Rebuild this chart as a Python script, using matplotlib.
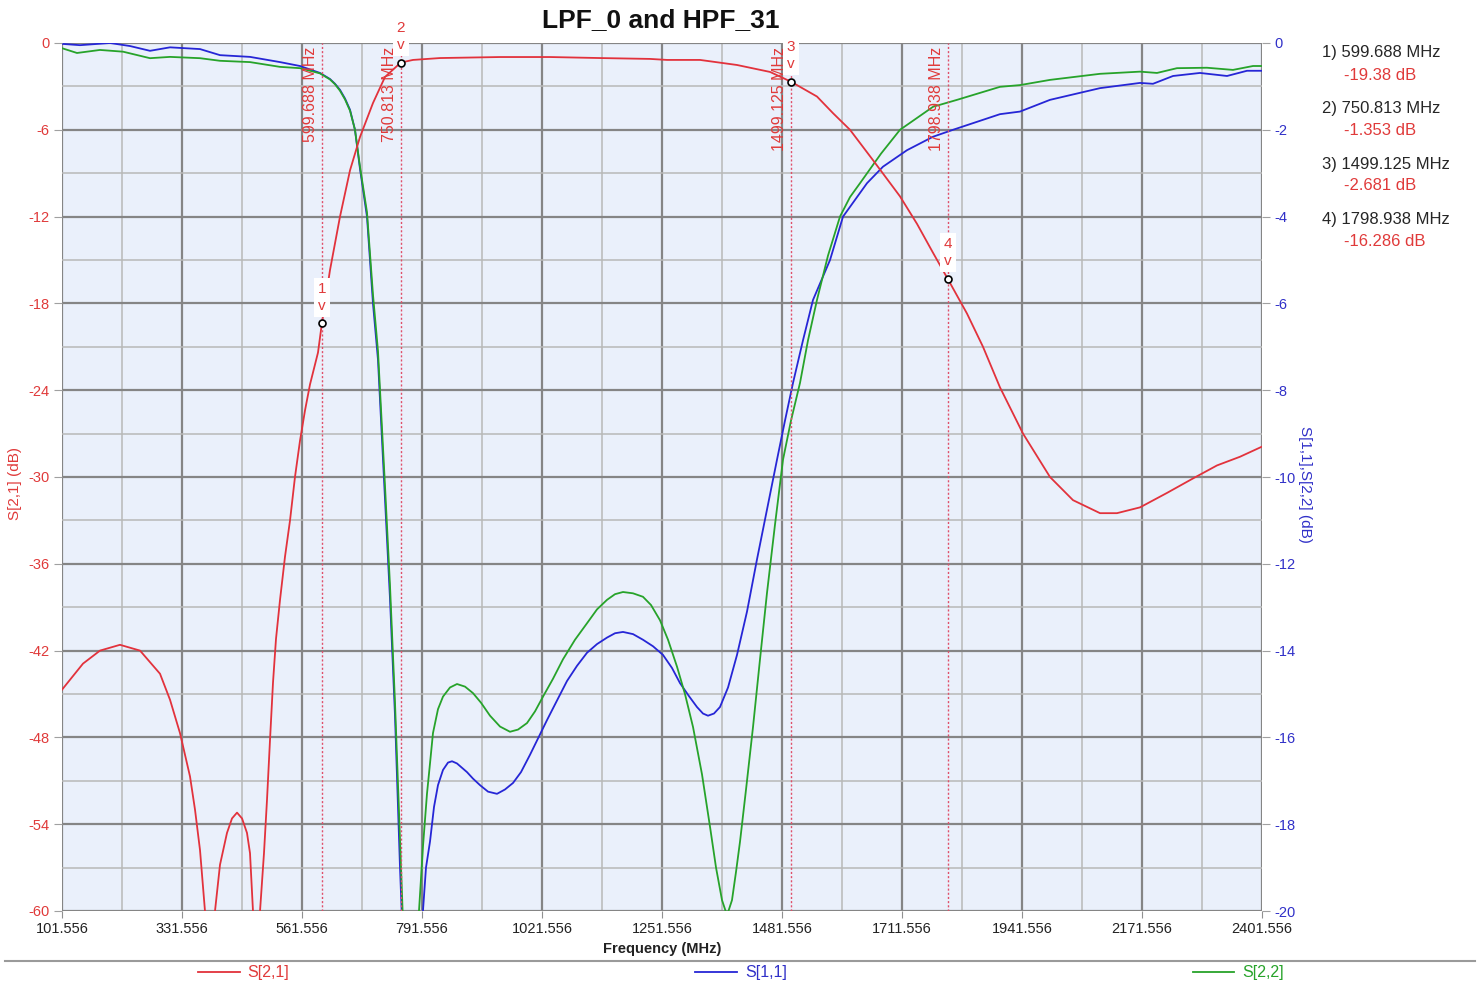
import numpy as np
import matplotlib
matplotlib.use("Agg")
import matplotlib.pyplot as plt
from matplotlib.lines import Line2D
from matplotlib.ticker import MultipleLocator, FixedLocator

plt.rcParams['font.family'] = ['Liberation Sans', 'DejaVu Sans']
plt.rcParams['axes.unicode_minus'] = False

# %% DATA
# S[2,1] on the left axis (dB)
s21_f = [101.6, 141.8, 174.4, 212.7, 251.1, 289.4, 308.6, 327.7, 346.9, 356.5, 366.1,
         375.6, 385.0, 394.8, 404.4, 417.8, 427.4, 437.0, 446.6, 456.1, 461.9, 467.6,
         473.4, 481.1, 488.7, 494.5, 500.2, 506.0, 511.7, 519.4, 529.0, 538.6, 548.1,
         557.7, 567.3, 576.9, 592.2, 599.688, 615.2, 634.4, 653.6, 672.7, 697.6, 720.6,
         750.813, 774.3, 826.1, 941.1, 1036.9, 1132.7, 1228.5, 1261.2, 1324.4, 1395.3,
         1458.6, 1499.125, 1548.6, 1579.3, 1611.9, 1656.0, 1707.7, 1740.3, 1771.0,
         1798.938, 1836.1, 1866.8, 1899.3, 1943.5, 1995.2, 2039.3, 2091.1, 2123.6,
         2167.7, 2219.5, 2269.3, 2315.3, 2359.4, 2401.6]
s21_db = [-44.7, -42.9, -42.0, -41.6, -42.0, -43.6, -45.4, -47.7, -50.7, -53.0, -55.8,
          -60.0, -68.0, -60.0, -56.8, -54.6, -53.6, -53.2, -53.6, -54.6, -56.0, -60.0,
          -70.0, -60.0, -56.0, -52.3, -48.2, -44.2, -41.2, -38.5, -35.5, -33.0, -30.0,
          -27.5, -25.4, -23.6, -21.4, -19.38, -15.7, -12.0, -8.8, -6.5, -4.15, -2.35,
          -1.353, -1.17, -1.04, -0.97, -0.97, -1.04, -1.10, -1.17, -1.17, -1.52,
          -2.0, -2.681, -3.7, -4.85, -6.0, -8.1, -10.6, -12.5, -14.5,
          -16.286, -18.7, -21.0, -23.8, -27.0, -30.0, -31.6, -32.5, -32.5,
          -32.1, -31.1, -30.1, -29.2, -28.6, -27.9]

# S[1,1] on the right axis (dB)
s11_f = [101.6, 136.1, 193.6, 231.9, 270.2, 308.6, 366.1, 404.4, 461.9, 519.4, 557.7,
         596.0, 615.2, 624.8, 634.4, 644.0, 653.6, 663.1, 672.7, 686.1, 697.6, 707.2,
         720.6, 730.2, 739.8, 749.4, 759.0, 768.6, 783.9, 793.5, 799.2, 806.9, 814.6,
         822.2, 831.8, 841.4, 849.1, 858.6, 868.2, 877.8, 889.3, 902.7, 918.1, 935.3,
         950.6, 966.0, 981.3, 998.6, 1031.2, 1050.3, 1069.5, 1088.7, 1107.8, 1127.0,
         1146.2, 1161.5, 1176.8, 1196.0, 1215.1, 1234.3, 1253.5, 1270.7, 1286.1, 1303.3,
         1318.6, 1330.1, 1339.7, 1351.2, 1362.7, 1378.1, 1395.3, 1414.5, 1433.6, 1452.8,
         1472.0, 1487.3, 1502.7, 1521.8, 1541.0, 1573.6, 1598.5, 1644.5, 1675.1, 1721.1,
         1771.0, 1809.3, 1866.8, 1899.3, 1937.7, 1995.2, 2091.1, 2167.7, 2192.6, 2231.0,
         2282.7, 2334.5, 2372.8, 2401.6]
s11_db = [-0.02, -0.05, 0.0, -0.07, -0.18, -0.10, -0.14, -0.28, -0.32, -0.44, -0.53,
          -0.69, -0.83, -0.94, -1.08, -1.28, -1.54, -2.0, -2.9, -4.0, -6.0, -7.3,
          -10.5, -12.8, -15.5, -19.0, -22.0, -26.0, -22.0, -19.98, -19.0, -18.4, -17.6,
          -17.1, -16.75, -16.58, -16.55, -16.6, -16.7, -16.8, -16.95, -17.1, -17.25, -17.3,
          -17.2, -17.05, -16.8, -16.4, -15.6, -15.15, -14.7, -14.35, -14.05, -13.85,
          -13.7, -13.6, -13.57, -13.62, -13.75, -13.9, -14.1, -14.4, -14.75, -15.05,
          -15.3, -15.45, -15.5, -15.45, -15.3, -14.85, -14.1, -13.1, -11.9, -10.75,
          -9.6, -8.7, -7.83, -6.85, -5.92, -5.0, -4.0, -3.23, -2.85, -2.47,
          -2.16, -2.0, -1.77, -1.64, -1.58, -1.31, -1.04, -0.92, -0.94, -0.76,
          -0.69, -0.76, -0.64, -0.64]

# S[2,2] on the right axis (dB)
s22_f = [101.6, 130.3, 174.4, 218.5, 270.2, 308.6, 366.1, 404.4, 461.9, 519.4, 557.7,
         596.0, 615.2, 624.8, 634.4, 644.0, 653.6, 663.1, 672.7, 686.1, 697.6, 707.2,
         720.6, 730.2, 739.8, 753.2, 762.8, 770.5, 778.2, 785.8, 793.5, 801.1, 806.9,
         812.6, 822.2, 831.8, 845.2, 858.6, 874.0, 889.3, 904.6, 921.9, 941.1, 960.2,
         975.6, 992.8, 1008.2, 1023.5, 1042.6, 1061.8, 1084.8, 1107.8, 1127.0, 1146.2,
         1161.5, 1176.8, 1196.0, 1215.1, 1230.5, 1247.7, 1263.1, 1280.3, 1295.6, 1311.0,
         1328.2, 1343.6, 1355.1, 1366.6, 1376.2, 1385.7, 1393.4, 1401.1, 1412.6, 1426.0,
         1439.4, 1452.8, 1468.1, 1483.5, 1498.8, 1516.1, 1531.4, 1548.6, 1569.7, 1592.7,
         1611.9, 1631.1, 1671.3, 1707.7, 1771.0, 1817.0, 1899.3, 1937.7, 1995.2, 2091.1,
         2167.7, 2200.3, 2238.6, 2296.1, 2345.9, 2384.3, 2401.6]
s22_db = [-0.12, -0.23, -0.16, -0.20, -0.35, -0.32, -0.35, -0.41, -0.44, -0.55, -0.58,
          -0.70, -0.84, -0.95, -1.10, -1.30, -1.56, -2.0, -2.85, -3.9, -5.8, -7.1,
          -10.2, -12.5, -15.2, -19.6, -23.0, -26.0, -22.0, -20.0, -18.5, -17.3, -16.6,
          -15.9, -15.35, -15.06, -14.85, -14.77, -14.83, -14.98, -15.2, -15.5, -15.75, -15.87,
          -15.82, -15.67, -15.4, -15.06, -14.65, -14.2, -13.75, -13.37, -13.05, -12.83,
          -12.7, -12.65, -12.68, -12.76, -12.95, -13.3, -13.75, -14.37, -15.0, -15.76,
          -16.85, -18.06, -19.0, -19.75, -20.1, -19.75, -19.1, -18.4, -17.2, -15.76,
          -14.2, -12.67, -11.1, -9.6, -8.7, -7.83, -6.85, -5.92, -4.9, -4.0,
          -3.55, -3.23, -2.55, -2.0, -1.47, -1.31, -1.01, -0.97, -0.85, -0.71,
          -0.66, -0.69, -0.58, -0.57, -0.62, -0.53, -0.53]

marker_f = [599.688, 750.813, 1499.125, 1798.938]
marker_db = [-19.38, -1.353, -2.681, -16.286]
marker_names = ["1", "2", "3", "4"]

x_ticks = [101.556 + 230 * k for k in range(11)]
x_tick_labels = [f"{t:.3f}" for t in x_ticks]

RED = '#e2323c'
BLUE = '#2626d6'
GREEN = '#27a32a'
RED_TXT = '#e03a3a'
BLUE_TXT = '#3030c8'

# %% FIGURE
W, H = 1481, 989
fig = plt.figure(figsize=(W / 100, H / 100), dpi=100)
ax2 = fig.add_axes([62 / W, 1 - 911 / H, 1200 / W, 868 / H])
ax = ax2.twinx()
ax.yaxis.tick_left()
ax.yaxis.set_label_position('left')
ax2.yaxis.tick_right()
ax2.yaxis.set_label_position('right')

ax2.set_facecolor('#eaf0fb')
ax.patch.set_visible(False)

ax.set_xlim(101.556, 2401.556)
ax.set_ylim(-60, 0)
ax2.set_ylim(-20, 0)

# grid drawn on the background axes so the traces stay on top
ax2.xaxis.set_major_locator(FixedLocator(x_ticks))
ax2.xaxis.set_minor_locator(FixedLocator([t + 115 for t in x_ticks[:-1]]))
ax2.yaxis.set_major_locator(MultipleLocator(2))
ax2.yaxis.set_minor_locator(MultipleLocator(1))
ax.yaxis.set_major_locator(MultipleLocator(6))
ax.yaxis.set_minor_locator(MultipleLocator(3))
ax2.grid(which='major', color='#858585', linewidth=1.6)
ax2.grid(which='minor', color='#b8b8b8', linewidth=1.1)
ax2.set_axisbelow(True)
ax2.set_xticklabels(x_tick_labels)

for a in (ax, ax2):
    for s in a.spines.values():
        s.set_visible(False)
ax2.tick_params(axis='x', which='major', length=5, color='#909090', labelsize=10.5,
                labelcolor='#222222', pad=3)
ax2.tick_params(axis='x', which='minor', length=0)
ax2.tick_params(axis='y', which='major', length=6, color='#a0a0a0', labelsize=10.5,
                labelcolor=BLUE_TXT, pad=3)
ax2.tick_params(axis='y', which='minor', length=0)
ax.tick_params(axis='y', which='major', length=6, color='#a0a0a0', labelsize=10.5,
               labelcolor=RED_TXT, pad=3)
ax.tick_params(axis='y', which='minor', length=0)

# %% TRACES
l11, = ax2.plot(s11_f, s11_db, color=BLUE, linewidth=1.3, label='S[1,1]')
l22, = ax2.plot(s22_f, s22_db, color=GREEN, linewidth=1.3, label='S[2,2]')
l21, = ax.plot(s21_f, s21_db, color=RED, linewidth=1.3, label='S[2,1]', zorder=2)

# %% MARKERS
label_dx = [-11, -11, -12, -11]
for f, v, name, dx in zip(marker_f, marker_db, marker_names, label_dx):
    ax.axvline(f, color='#e0506a', linestyle=(0, (1.5, 1.5)), linewidth=1.0, zorder=3)
    ax.annotate(f"{f:.3f} MHz", xy=(f, 1), xycoords=('data', 'axes fraction'),
                xytext=(dx, -4), textcoords='offset pixels', rotation=90,
                ha='center', va='top', color=RED_TXT, fontsize=11.5, zorder=4)
    ax.annotate(f"{name}\nv", xy=(f, v), xytext=(0, 26), textcoords='offset pixels',
                ha='center', va='center', color=RED_TXT, fontsize=11, linespacing=1.3,
                bbox=dict(boxstyle='square,pad=0.25', facecolor='white', edgecolor='none'),
                zorder=5, annotation_clip=False)
ax.plot(marker_f, marker_db, 'o', mfc='white', mec='black', ms=5, mew=1.2, zorder=6,
        clip_on=False)

# %% TEXTS
fig.text(661 / W, 1 - 20 / H, "LPF_0 and HPF_31", ha='center', va='center',
         fontsize=19, fontweight='bold', color='#111111')
fig.text(662 / W, 1 - 949 / H, "Frequency (MHz)", ha='center', va='center',
         fontsize=10.5, fontweight='bold', color='#222222')
fig.text(15 / W, 1 - 483 / H, "S[2,1] (dB)", rotation=90, ha='center', va='center',
         fontsize=11, color=RED_TXT)
fig.text(1305 / W, 1 - 484 / H, "S[1,1],S[2,2] (dB)", rotation=270, ha='center',
         va='center', fontsize=11, color=BLUE_TXT)

for i, (f, v) in enumerate(zip(marker_f, marker_db)):
    y0 = 53 + i * 55.5
    fig.text(1322 / W, 1 - y0 / H, f"{i + 1}) {f:.3f} MHz", ha='left', va='center',
             fontsize=12, color='#262626')
    fig.text(1344 / W, 1 - (y0 + 22) / H, f"{v:g} dB", ha='left', va='center',
             fontsize=12, color=RED_TXT)

# %% LEGEND
fig.add_artist(Line2D([5 / W, 1475 / W], [1 - 961 / H, 1 - 961 / H],
                      color='#9a9a9a', linewidth=1.5))
leg = fig.legend([l21, l11, l22], ['S[2,1]', 'S[1,1]', 'S[2,2]'], ncol=3,
                 loc='center', mode='expand',
                 bbox_to_anchor=(198 / W, 1 - 985 / H, (1284 - 198) / W, 24 / H),
                 frameon=False, fontsize=11.5, handlelength=2.6, handletextpad=0.5,
                 borderaxespad=0, borderpad=0)
for txt, c in zip(leg.get_texts(), [RED_TXT, BLUE_TXT, GREEN]):
    txt.set_color(c)

fig.savefig('out.png', dpi=100)
